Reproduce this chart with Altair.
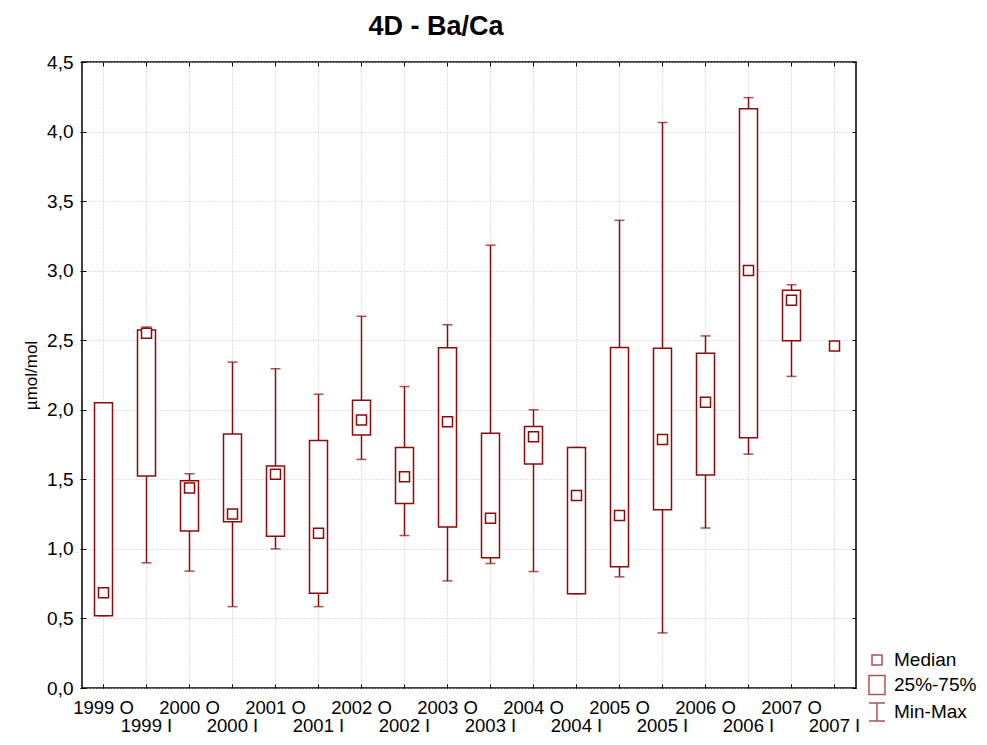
import altair as alt
import pandas as pd

categories = ["1999 O", "1999 I", "2000 O", "2000 I", "2001 O", "2001 I",
              "2002 O", "2002 I", "2003 O", "2003 I", "2004 O", "2004 I",
              "2005 O", "2005 I", "2006 O", "2006 I", "2007 O", "2007 I"]
minimum = [0.52, 0.90, 0.84, 0.585, 1.00, 0.585, 1.643, 1.096, 0.770, 0.895,
           0.837, 0.678, 0.799, 0.396, 1.150, 1.681, 2.240, 2.458]
quart1 = [0.52, 1.524, 1.128, 1.195, 1.09, 0.681, 1.818, 1.326, 1.157, 0.936,
          1.611, 0.678, 0.872, 1.282, 1.531, 1.799, 2.496, 2.458]
median = [0.684, 2.55, 1.438, 1.25, 1.537, 1.112, 1.927, 1.518, 1.914, 1.221,
          1.806, 1.384, 1.240, 1.787, 2.055, 3.001, 2.787, 2.458]
quart3 = [2.05, 2.573, 1.49, 1.825, 1.595, 1.78, 2.068, 1.729, 2.445, 1.831,
          1.879, 1.729, 2.448, 2.442, 2.407, 4.164, 2.860, 2.458]
maximum = [2.05, 2.595, 1.54, 2.343, 2.295, 2.112, 2.672, 2.167, 2.611, 3.183,
           2.0, 1.729, 3.362, 4.065, 2.531, 4.244, 2.899, 2.458]
y_ticks = [0.0, 0.5, 1.0, 1.5, 2.0, 2.5, 3.0, 3.5, 4.0, 4.5]
legend_items = ["Median", "25%-75%", "Min-Max"]
legend_paths = [
    "M-0.5,-0.5H0.5V0.5H-0.5Z",
    "M-0.8,-0.95H0.8V0.95H-0.8Z",
    "M-0.8,-0.9H0.8M0,-0.9V0.9M-0.8,0.9H0.8",
]

df = pd.DataFrame({
    "cat": categories, "min": minimum, "q1": quart1, "med": median,
    "q3": quart3, "max": maximum,
})
legend_df = pd.DataFrame({"item": legend_items})

RED = "#8c0a0a"
FONT = "Liberation Sans"

xscale = alt.Scale(domain=categories, paddingInner=0, paddingOuter=0)
yscale = alt.Scale(domain=[0, 4.5], nice=False, zero=False)

label_expr_x = "slice(datum.label, -1) == 'I' ? ['', datum.label] : datum.label"
label_expr_y = "replace(format(datum.value, '.1f'), '.', ',')"

x_bottom = alt.Axis(orient="bottom", domain=False, ticks=True, tickSize=4,
                    tickColor="black", offset=-4, labelPadding=10,
                    labelExpr=label_expr_x, labelAngle=0, labelFontSize=18.5,
                    labelFont=FONT, labelColor="black", labelOverlap=False,
                    labelLineHeight=18, labelBound=False, labelFlush=False,
                    title=None, grid=True, gridColor="#c4c4c4",
                    gridDash=[1, 2], gridWidth=1)
y_left = alt.Axis(orient="left", domain=False, ticks=True, tickSize=6,
                  tickColor="black", offset=-4, labelPadding=7,
                  values=y_ticks, labelExpr=label_expr_y, labelFontSize=19,
                  labelFont=FONT, labelColor="black", title="µmol/mol",
                  titleFont=FONT, titleFontSize=17, titleFontWeight="normal",
                  titleColor="black", titlePadding=6, grid=True,
                  gridColor="#c4c4c4", gridDash=[1, 2], gridWidth=1)
x_top = alt.Axis(orient="top", domain=False, ticks=True, tickSize=4,
                 tickColor="black", offset=-4, labels=False, title=None,
                 grid=False)
y_right = alt.Axis(orient="right", domain=False, ticks=True, tickSize=4,
                   tickColor="black", offset=-4, labels=False, title=None,
                   grid=False, values=y_ticks)

base = alt.Chart(df)

boxes = base.mark_bar(size=18, fill="white", stroke=RED, strokeWidth=1.5).encode(
    x=alt.X("cat:N", scale=xscale, sort=categories, axis=x_bottom),
    y=alt.Y("q1:Q", scale=yscale, axis=y_left),
    y2="q3:Q",
).transform_filter("datum.q3 > datum.q1")

whiskers = base.mark_rule(color=RED, strokeWidth=1.5).encode(
    x=alt.X("cat:N", scale=xscale, sort=categories, axis=None),
    y=alt.Y("min:Q", scale=yscale, axis=None),
    y2="max:Q",
)

cap_lo = base.mark_tick(color=RED, size=10, thickness=1.5, orient="horizontal").encode(
    x=alt.X("cat:N", scale=xscale, sort=categories, axis=None),
    y=alt.Y("min:Q", scale=yscale, axis=None),
)
cap_hi = base.mark_tick(color=RED, size=10, thickness=1.5, orient="horizontal").encode(
    x=alt.X("cat:N", scale=xscale, sort=categories, axis=None),
    y=alt.Y("max:Q", scale=yscale, axis=None),
)

medians = base.mark_point(shape="square", size=100, filled=True, fill="white",
                          stroke=RED, strokeWidth=1.5, opacity=1).encode(
    x=alt.X("cat:N", scale=xscale, sort=categories, axis=x_top),
    y=alt.Y("med:Q", scale=yscale, axis=y_right),
)

legend_layer = alt.Chart(legend_df).mark_point(
    filled=False, color=RED, size=400, strokeWidth=1.5
).encode(
    shape=alt.Shape("item:N", scale=alt.Scale(domain=legend_items, range=legend_paths),
                    legend=alt.Legend(orient="none", legendX=784, legendY=587,
                                      title=None, symbolSize=400,
                                      symbolStrokeColor=RED, symbolStrokeWidth=1.5,
                                      symbolFillColor="transparent",
                                      labelFont=FONT, labelFontSize=19,
                                      labelColor="black", labelOffset=6,
                                      rowPadding=2, padding=0, labelLimit=300)),
).transform_filter("false")

chart = alt.layer(whiskers, cap_lo, cap_hi, boxes, medians, legend_layer).properties(
    width=774,
    height=626,
    title=alt.TitleParams("4D - Ba/Ca", font=FONT, fontSize=27, fontWeight="bold",
                          color="black", anchor="middle", dx=-33, offset=12),
    autosize=alt.AutoSizeParams(type="none"),
    padding={"left": 74, "top": 54, "right": 122, "bottom": 48},
).configure(
    background="white"
).configure_view(
    stroke="black", strokeWidth=1.5
)

chart.save("out.html", embed_options={"renderer": "svg", "actions": False})
